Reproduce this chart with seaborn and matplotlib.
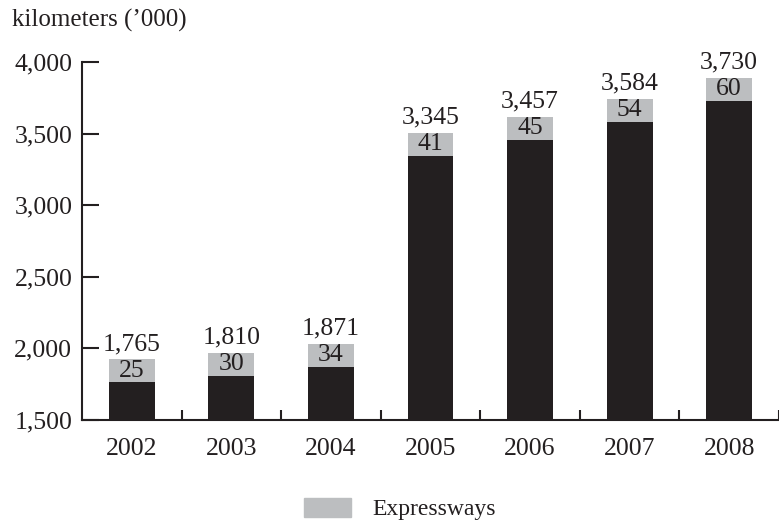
import matplotlib
matplotlib.use("Agg")
import matplotlib.pyplot as plt
import matplotlib.patches as mpatches
import seaborn as sns
import pandas as pd

# datos
anios = ["2002", "2003", "2004", "2005", "2006", "2007", "2008"]
total_km = [1765, 1810, 1871, 3345, 3457, 3584, 3730]
autopistas = [25, 30, 34, 41, 45, 54, 60]
ticks_y = [1500, 2000, 2500, 3000, 3500, 4000]

NEGRO = "#231f20"
GRIS = "#bcbec0"
alto_seg = 160  # altura fija del tramo gris (no esta a escala)

sns.set_theme(style="white")
plt.rcParams["font.family"] = ["Liberation Serif", "DejaVu Serif"]
plt.rcParams["text.color"] = NEGRO

df = pd.DataFrame({"anio": anios, "total": total_km, "autopistas": autopistas})
df["tope"] = df["total"] + alto_seg

fig = plt.figure(figsize=(7.79, 5.22), dpi=100)
ax = fig.add_axes([82 / 779, 102 / 522, 697 / 779, 358 / 522])

sns.barplot(data=df, x="anio", y="tope", color=GRIS, width=0.46,
            saturation=1, ax=ax, linewidth=0)
sns.barplot(data=df, x="anio", y="total", color=NEGRO, width=0.46,
            saturation=1, ax=ax, linewidth=0)

ax.bar_label(ax.containers[0], labels=[f"{v:,}" for v in total_km],
             padding=3, fontsize=18.5, color=NEGRO)
for i, (t, a) in enumerate(zip(total_km, autopistas)):
    ax.text(i, t + alto_seg / 2, str(a), ha="center", va="center",
            fontsize=18.5, color=NEGRO)

ax.set_ylim(1500, 4000)
ax.set_xlim(-0.5, 6.44)
ax.set_yticks(ticks_y)
ax.set_yticklabels([f"{v:,}" for v in ticks_y])
ax.set_xticks(range(len(anios)))
ax.set_xticklabels(anios)
ax.set_xticks([i + 0.5 for i in range(len(anios))], minor=True)
ax.tick_params(axis="x", which="major", length=0, pad=13, labelsize=18.5, labelcolor=NEGRO)
ax.tick_params(axis="x", which="minor", direction="in", length=7, width=1.5,
               color=NEGRO, bottom=True)
ax.tick_params(axis="y", direction="in", length=12, width=1.5, pad=7,
               labelsize=18.5, labelcolor=NEGRO, color=NEGRO, left=True)
ax.set_xlabel("")
ax.set_ylabel("")

for lado in ["top", "right"]:
    ax.spines[lado].set_visible(False)
for lado in ["left", "bottom"]:
    ax.spines[lado].set_color(NEGRO)
    ax.spines[lado].set_linewidth(1.5)

fig.text(12 / 779, 1 - 20 / 522, "kilometers (\u2019000)", fontsize=18,
         ha="left", va="center", color=NEGRO)

fig.legend(handles=[mpatches.Patch(color=GRIS, label="Expressways")],
           loc="center", bbox_to_anchor=(400 / 779, 1 - 509 / 522),
           frameon=False, fontsize=17, handlelength=2.0, handleheight=0.9,
           handletextpad=0.9)

fig.savefig("out.png", dpi=100)
plt.close(fig)
